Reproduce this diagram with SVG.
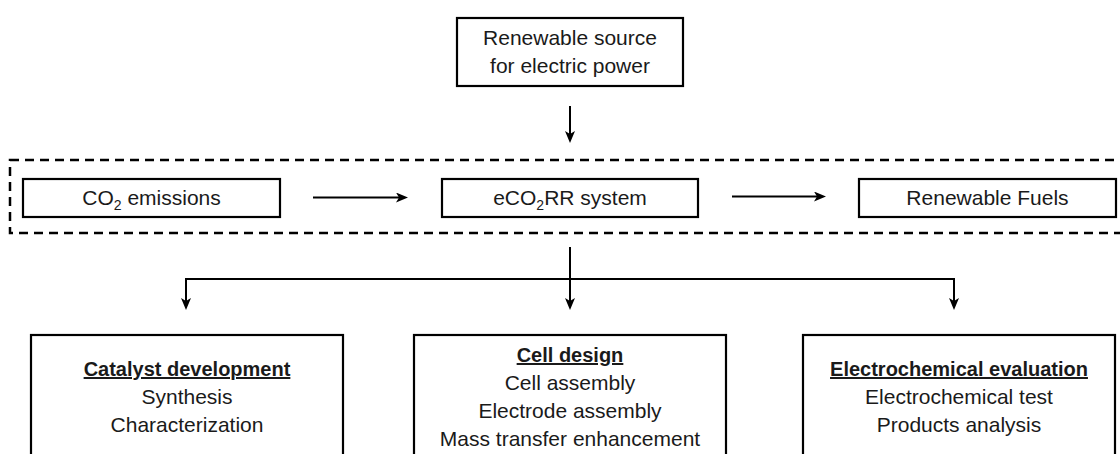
<svg xmlns="http://www.w3.org/2000/svg" width="1120" height="454" viewBox="0 0 1120 454">
<style>
.box{fill:#fff;stroke:#000;stroke-width:2.2}
.t{font-family:"Liberation Sans",Arial,sans-serif;font-size:21px;fill:#1a1a1a;text-anchor:middle}
.b{font-weight:bold;font-size:20px;text-decoration:underline}
.c{fill:none;stroke:#000;stroke-width:2}
.dash{fill:none;stroke:#000;stroke-width:2.5;stroke-dasharray:9 6}
</style>
<defs>
<marker id="ah" viewBox="0 0 12 10" markerWidth="12" markerHeight="10" markerUnits="userSpaceOnUse" refX="8" refY="5" orient="auto">
<path d="M0,0 L12,5 L0,10 L3,5 Z" fill="#000"/>
</marker>
</defs>
<rect id="system-boundary" class="dash" x="10" y="160" width="1120" height="73"/>
<g id="renewable-source">
<rect class="box" x="457" y="18" width="226" height="68"/>
<text class="t" x="570" y="45">Renewable source</text>
<text class="t" x="570" y="73">for electric power</text>
</g>
<g id="co2-emissions">
<rect class="box" x="23" y="179" width="257" height="38"/>
<text class="t" x="151.5" y="205">CO<tspan font-size="14" dy="5">2</tspan><tspan dy="-5"> emissions</tspan></text>
</g>
<g id="eco2rr-system">
<rect class="box" x="442" y="179" width="256" height="38"/>
<text class="t" x="570" y="205">eCO<tspan font-size="14" dy="5">2</tspan><tspan dy="-5">RR system</tspan></text>
</g>
<g id="renewable-fuels">
<rect class="box" x="859" y="179" width="257" height="38"/>
<text class="t" x="987.5" y="205">Renewable Fuels</text>
</g>
<g id="catalyst-development">
<rect class="box" x="31" y="335" width="312" height="140"/>
<text class="t b" x="187" y="376">Catalyst development</text>
<text class="t" x="187" y="404">Synthesis</text>
<text class="t" x="187" y="432">Characterization</text>
</g>
<g id="cell-design">
<rect class="box" x="414" y="335" width="312" height="140"/>
<text class="t b" x="570" y="362">Cell design</text>
<text class="t" x="570" y="390">Cell assembly</text>
<text class="t" x="570" y="418">Electrode assembly</text>
<text class="t" x="570" y="446">Mass transfer enhancement</text>
</g>
<g id="electrochemical-evaluation">
<rect class="box" x="803" y="335" width="312" height="140"/>
<text class="t b" x="959" y="376">Electrochemical evaluation</text>
<text class="t" x="959" y="404">Electrochemical test</text>
<text class="t" x="959" y="432">Products analysis</text>
</g>
<g id="connectors">
<line class="c" x1="570" y1="106" x2="570" y2="139" marker-end="url(#ah)"/>
<line class="c" x1="313" y1="197.5" x2="404" y2="197.5" marker-end="url(#ah)"/>
<line class="c" x1="732" y1="196.5" x2="822" y2="196.5" marker-end="url(#ah)"/>
<line class="c" x1="570" y1="247" x2="570" y2="306" marker-end="url(#ah)"/>
<polyline class="c" points="570,279 186,279 186,306" marker-end="url(#ah)"/>
<polyline class="c" points="570,279 954,279 954,306" marker-end="url(#ah)"/>
</g>
</svg>
